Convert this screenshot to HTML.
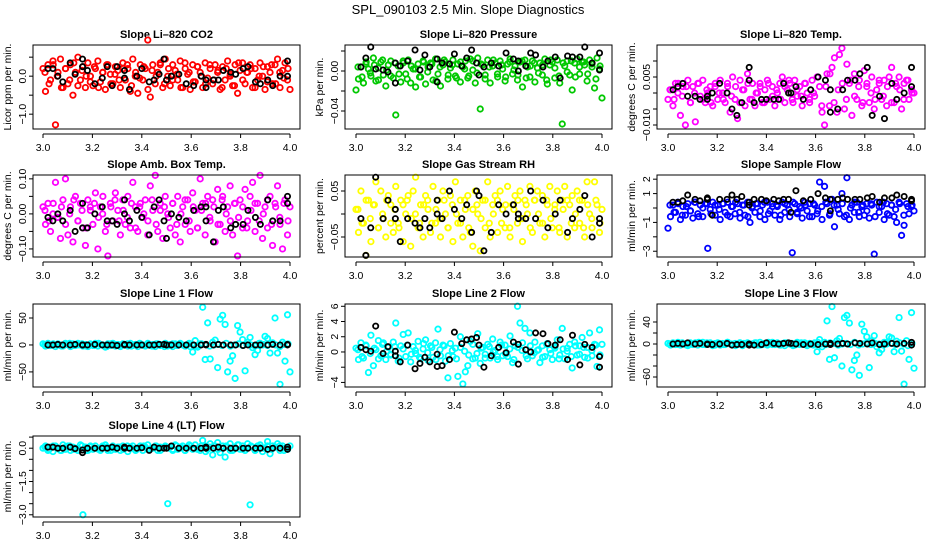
<!DOCTYPE html>
<html><head><meta charset="utf-8"><style>
html,body{margin:0;padding:0;background:#fff;}
svg{display:block;font-family:"Liberation Sans",sans-serif;}
</style></head><body>
<svg id="chart" width="936" height="540" viewBox="0 0 936 540">
<text x="468" y="14" text-anchor="middle" font-size="13">SPL_090103  2.5 Min. Slope Diagnostics</text>
</svg>
<script>
const xTickLabels = ["3.0","3.2","3.4","3.6","3.8","4.0"];
const xTickValues = [3.0,3.2,3.4,3.6,3.8,4.0];
const blackX = [3.02,3.04,3.06,3.08,3.11,3.13,3.16,3.16,3.18,3.21,3.24,3.26,3.28,3.30,3.33,3.33,3.35,3.38,3.40,3.43,3.45,3.47,3.49,3.50,3.52,3.55,3.58,3.61,3.64,3.66,3.66,3.69,3.71,3.73,3.76,3.78,3.81,3.83,3.86,3.88,3.91,3.93,3.96,3.99,3.99];

const co2Vals = [0.2,-0.4,0.3,-0.1,0.4,-1.28,0.1,0.45,-0.3,0.2,-0.2,0.3,-0.5,0.1,0.5,-0.1,0.25,-0.3,0.35,0.0,-0.25,0.2,0.4,-0.15,0.1,-0.35,0.3,0.05,-0.2,0.25,0.15,-0.3,0.35,-0.1,0.2,-0.4,0.45,0.0,-0.45,0.3,-0.1,0.2,0.95,-0.55,0.3,-0.2,0.1,0.35,-0.3,0.45,0.0,-0.25,0.3,0.15,-0.1,0.4,-0.3,0.2,0.05,-0.35,0.3,-0.15,0.25,0.1,-0.3,0.35,-0.05,0.2,-0.2,0.3,0.1,-0.35,0.25,-0.1,0.4,0.0,-0.25,0.3,-0.45,0.15,0.35,-0.2,0.1,0.3,-0.3,0.2,-0.1,0.35,0.0,-0.35,0.25,0.1,-0.2,0.3,0.45,-0.3,0.15,0.35,-0.1,-0.35];
const co2Band = [0.1,-0.2,0.3,0.0,-0.3,0.2,-0.1,0.35,-0.25,0.15,0.0,-0.15,0.25,-0.3,0.1,0.3,-0.2,0.05,-0.1,0.2,0.3,-0.25,0.1,-0.05,0.25,-0.35,0.15,0.0,0.3,-0.2,0.2,-0.1,0.05,-0.3,0.35,0.1,-0.15,0.25,0.0,-0.2,0.3,-0.1,0.15,-0.3,0.2,0.05,-0.25,0.35,-0.1,0.1,0.2,-0.3,0.0,0.25,-0.15,0.3,-0.2,0.1,-0.05,0.2];
const co2Black = [0.2,0.2,0.0,-0.15,0.35,0.05,0.45,0.25,0.15,-0.2,-0.05,0.25,-0.25,0.25,0.15,-0.05,-0.35,0.0,0.2,-0.15,-0.1,0.05,0.45,-0.1,0.0,0.05,-0.2,-0.25,0.0,-0.1,-0.3,-0.1,-0.1,0.15,0.1,0.05,0.2,0.25,-0.15,-0.2,-0.1,-0.25,0.0,0.0,0.4];

const presVals = [-0.019,-0.008,0.004,-0.012,0.007,0.002,-0.005,0.013,-0.010,0.003,0.009,-0.004,-0.015,0.006,0.010,-0.007,-0.044,0.005,-0.011,0.008,-0.003,0.011,-0.012,0.002,-0.016,0.007,-0.006,0.010,-0.013,0.004,0.008,-0.009,0.012,-0.003,-0.015,0.006,0.009,-0.008,0.003,0.011,-0.005,0.007,-0.011,0.004,0.010,-0.007,0.012,0.001,-0.012,0.013,-0.038,0.006,-0.004,0.011,-0.012,0.005,0.008,-0.006,0.010,0.002,-0.010,0.007,0.012,-0.003,0.005,-0.009,0.009,-0.016,0.011,0.004,-0.006,0.010,-0.011,0.003,0.008,-0.004,0.012,-0.013,0.006,0.009,-0.007,0.011,-0.012,-0.053,0.005,0.010,-0.004,-0.019,0.008,0.012,-0.003,0.009,0.006,-0.010,0.011,0.004,-0.017,0.013,0.002,-0.027];
const presBand = [0.004,-0.006,0.009,-0.002,0.006,-0.009,0.011,0.001,-0.005,0.008,-0.003,0.010,-0.008,0.005,0.002,-0.006,0.009,-0.001,0.007,-0.010,0.004,0.011,-0.004,0.006,-0.007,0.009,0.002,-0.005,0.010,-0.002,0.007,-0.008,0.004,0.011,-0.003,0.006,-0.006,0.009,0.001,-0.004,0.010,-0.007,0.005,0.008,-0.002,0.006,-0.009,0.011,0.003,-0.005,0.008,-0.001,0.010,-0.006,0.004,0.009,-0.003,0.007,-0.008,0.005];
const presBlack = [0.004,0.013,0.024,0.002,0.001,-0.001,0.008,-0.012,0.005,0.010,0.021,0.001,0.016,0.004,0.012,-0.011,0.008,0.007,0.017,0.005,0.013,0.021,0.008,-0.004,0.004,0.008,0.005,0.018,0.012,0.010,0.000,0.005,0.018,0.016,0.004,0.010,0.014,-0.007,0.015,0.014,0.014,0.024,0.008,0.018,0.001];

const ltVals = [-0.002,0.001,-0.004,0.003,0.000,-0.007,0.002,-0.010,0.004,-0.003,0.002,-0.009,0.003,-0.001,0.004,-0.003,0.000,0.002,-0.004,0.003,-0.002,0.004,0.000,-0.003,0.002,-0.006,0.005,-0.002,-0.008,0.004,0.001,-0.004,0.006,-0.002,0.003,-0.004,0.000,0.003,-0.003,0.001,0.004,-0.002,0.002,-0.004,0.000,0.003,0.005,-0.003,0.001,0.003,-0.002,0.004,-0.001,0.002,-0.004,0.003,0.000,-0.003,0.004,-0.001,0.005,0.002,-0.006,-0.010,0.006,-0.004,0.008,0.011,-0.006,0.012,0.014,-0.005,0.009,0.003,-0.007,0.006,-0.002,0.004,-0.004,0.007,0.002,-0.003,0.005,-0.005,0.001,0.003,-0.002,0.004,-0.004,0.005,0.008,-0.003,0.002,0.005,-0.005,0.003,0.004,-0.002,0.001,0.000];
const ltBand = [0.001,-0.002,0.003,-0.001,0.002,-0.003,0.000,0.003,-0.002,0.001,-0.003,0.002,0.000,-0.002,0.003,-0.001,0.002,-0.003,0.001,0.003,-0.002,0.000,0.002,-0.003,0.003,-0.001,0.001,-0.002,0.002,0.004,-0.003,0.001,-0.001,0.003,-0.002,0.000,0.005,-0.004,0.002,0.006,-0.003,0.001,0.003,-0.002,0.004,-0.001,0.002,-0.003,0.003,0.000,-0.002,0.004,-0.001,0.002,-0.003,0.003,0.001,-0.002,0.004,0.000];
const ltBlack = [0.001,0.002,0.003,-0.001,-0.001,-0.002,-0.002,-0.001,0.000,0.003,0.000,-0.005,-0.007,-0.003,0.008,0.004,-0.003,-0.002,-0.002,-0.002,-0.002,0.003,0.000,0.000,0.002,-0.002,0.001,0.005,0.004,0.001,-0.006,-0.005,0.001,0.004,0.004,0.006,0.008,-0.007,-0.001,-0.008,0.003,-0.002,0.000,0.002,0.008];

const ambVals = [0.02,-0.03,0.03,-0.05,0.00,0.09,-0.01,-0.07,0.04,0.10,-0.06,0.02,-0.08,0.05,-0.02,0.03,-0.04,-0.09,0.04,0.01,-0.03,0.06,-0.10,0.02,0.05,-0.05,-0.12,0.03,-0.02,0.06,0.01,-0.06,0.04,-0.03,0.05,-0.04,0.09,0.02,-0.05,0.03,-0.01,0.04,-0.06,0.08,0.01,0.11,-0.05,0.03,-0.07,0.05,0.00,-0.04,0.03,-0.06,0.05,-0.08,0.02,-0.03,0.04,-0.05,0.06,0.01,-0.04,0.10,0.03,-0.06,0.05,-0.02,0.04,-0.08,0.07,-0.03,0.05,-0.05,0.02,0.08,-0.06,0.03,-0.12,0.04,-0.04,0.07,-0.02,0.05,0.09,-0.05,0.03,0.11,-0.07,0.02,-0.04,0.05,-0.09,0.03,0.08,-0.03,-0.10,0.04,-0.06,0.02];
const ambBand = [0.01,-0.02,0.03,-0.01,0.02,-0.03,0.00,0.04,-0.02,0.01,-0.04,0.02,0.03,-0.01,0.00,-0.03,0.02,0.04,-0.02,0.01,-0.01,0.03,-0.04,0.02,0.00,-0.02,0.04,-0.03,0.01,0.02,-0.01,0.03,-0.03,0.00,0.04,-0.02,0.02,-0.04,0.01,0.03,-0.01,0.02,-0.03,0.04,0.00,-0.02,0.03,-0.01,0.02,-0.04,0.01,0.03,-0.02,0.00,0.04,-0.03,0.02,-0.01,0.03,-0.02];
const ambBlack = [-0.01,-0.02,0.00,-0.02,0.01,-0.05,0.03,-0.04,-0.04,0.00,0.02,-0.02,-0.02,-0.03,0.00,0.04,-0.02,0.01,-0.01,-0.06,0.02,0.04,-0.02,-0.07,0.00,-0.01,-0.02,0.01,0.02,-0.02,0.02,-0.08,0.01,0.02,-0.04,-0.03,-0.03,0.01,-0.01,-0.03,0.04,-0.02,-0.02,0.03,0.05];

const rhVals = [0.01,-0.04,0.05,-0.02,-0.09,0.03,-0.06,0.02,0.07,-0.03,0.05,-0.01,-0.05,0.04,0.02,-0.04,0.06,-0.02,0.03,-0.06,0.00,0.04,-0.07,0.05,0.08,-0.03,0.02,-0.05,0.04,0.01,-0.04,0.06,-0.02,0.03,-0.05,0.05,0.00,-0.03,0.04,-0.06,0.07,-0.02,0.03,-0.05,0.01,0.04,-0.04,-0.07,0.05,0.00,-0.08,0.03,-0.03,0.07,-0.05,0.02,0.04,-0.04,0.05,0.01,-0.03,0.06,-0.05,0.02,0.04,-0.02,0.05,-0.06,0.03,0.00,0.06,-0.04,0.03,0.05,-0.02,0.04,-0.05,0.02,0.06,-0.03,0.01,0.05,-0.04,0.03,0.06,-0.05,0.02,0.04,-0.03,0.05,-0.02,0.03,-0.05,0.07,0.00,-0.03,0.07,0.02,-0.04,0.01];
const rhBand = [0.01,-0.02,0.03,-0.01,0.02,-0.03,0.00,0.03,-0.02,0.01,-0.03,0.02,0.03,-0.01,0.00,-0.02,0.02,0.03,-0.02,0.01,-0.01,0.03,-0.03,0.02,0.00,-0.02,0.03,-0.03,0.01,0.02,-0.01,0.03,-0.02,0.00,0.03,-0.02,0.02,-0.03,0.01,0.03,-0.01,0.02,-0.03,0.03,0.00,-0.02,0.03,-0.01,0.02,-0.03,0.01,0.03,-0.02,0.00,0.03,-0.03,0.02,-0.01,0.03,-0.02];
const rhBlack = [-0.01,-0.09,-0.03,0.08,-0.01,0.03,0.01,-0.01,-0.06,-0.01,-0.02,-0.03,-0.01,-0.03,0.00,0.03,-0.01,0.05,0.01,-0.01,0.02,-0.04,0.05,0.04,-0.08,-0.04,0.02,0.00,0.02,0.00,-0.01,-0.01,0.05,-0.01,0.03,-0.03,0.00,0.03,-0.04,-0.01,0.01,0.04,-0.05,-0.02,-0.01];

const sfVals = [-1.4,-0.6,0.2,-0.3,0.4,-0.8,0.1,-0.5,0.3,-0.2,-0.7,0.4,-0.4,0.2,-0.6,0.3,-2.8,-0.1,0.4,-0.5,0.2,-0.8,0.3,-0.3,0.4,-0.6,0.1,-0.4,0.3,-0.7,0.2,-0.5,0.4,-1.0,0.1,-0.3,0.3,-0.6,0.2,-0.8,0.4,-0.2,0.3,-0.5,0.1,-0.8,0.4,-0.3,0.2,-0.6,-3.1,0.3,-0.4,0.1,-0.7,0.4,-0.2,0.3,-0.6,0.2,-0.4,1.8,-0.8,1.5,0.3,-0.5,0.6,-1.3,0.2,-0.4,1.0,-0.6,2.1,-0.8,0.2,-0.3,0.4,-0.6,0.1,-0.5,0.3,-0.7,0.2,-3.2,0.4,-0.3,0.1,-0.8,0.3,-0.5,0.2,-0.6,-1.0,0.4,-1.9,-1.2,0.3,-0.4,0.1,-0.2];
const sfBand = [0.2,-0.3,0.3,-0.5,0.1,-0.2,0.4,-0.6,0.0,0.3,-0.4,0.2,-0.1,0.3,-0.5,0.1,0.4,-0.3,0.2,-0.6,0.0,0.3,-0.2,0.4,-0.4,0.1,0.2,-0.5,0.3,-0.1,0.4,-0.3,0.0,0.2,-0.6,0.3,-0.2,0.1,0.4,-0.4,0.2,-0.1,0.3,-0.5,0.0,0.4,-0.3,0.2,-0.2,0.3,-0.6,0.1,0.4,-0.4,0.2,-0.1,0.3,-0.5,0.1,0.2];
const sfBlack = [0.4,0.4,0.5,0.9,0.6,0.5,0.6,0.7,-0.5,0.6,0.6,0.9,0.6,0.8,0.4,0.2,0.6,0.6,0.5,0.6,0.5,0.6,0.6,-0.3,1.2,0.5,0.6,1.0,0.7,0.6,-0.2,0.6,0.7,0.6,0.6,0.6,0.7,0.8,0.4,0.7,0.7,0.9,0.8,0.6,0.5];

const l1Vals = [2,-2,3,-1,1,-3,2,0,-2,3,1,-3,2,-1,3,0,-2,1,-3,2,-1,3,-2,1,0,-4,2,-1,3,-2,1,-3,2,0,-2,3,-1,1,-3,2,0,-2,3,-1,1,-3,2,-1,0,3,-2,1,-3,2,-1,3,0,-2,1,-3,-13,8,-4,2,70,-27,41,-26,5,9,-42,48,55,38,-50,-30,-20,-62,36,24,10,-48,5,14,-5,-18,-10,3,0,16,12,-15,4,50,-15,-73,5,-30,56,-50];
const l1Band = [1,-1,2,0,-2,1,3,-1,0,2,-2,1,-1,3,0,-3,2,1,-1,0,2,-2,1,3,-1,0,-2,2,1,-3,0,2,-1,1,-2,3,0,-1,2,1,-2,0,1,-1,3,-2,0,2,-1,1,0,-2,3,1,-1,2,0,-3,1,2];
const l1Black = [0,0,1,0,0,1,0,0,0,1,0,0,0,-1,1,0,0,0,0,0,0,1,1,0,0,0,0,0,0,1,0,0,1,0,0,0,-1,0,0,0,0,1,0,1,0];

const l2Vals = [0.5,-1.0,1.2,-0.8,0.9,-2.7,2.2,-1.8,0.3,1.5,-0.5,1.2,-1.0,0.6,-0.3,1.3,3.8,-1.2,0.8,2.3,-0.6,2.5,-1.3,0.7,-0.2,1.4,-0.9,0.4,1.6,-1.1,0.8,-0.7,1.2,3.0,-0.5,0.9,-1.2,-3.4,1.1,-0.6,0.5,-3.2,2.0,-4.2,-2.6,-1.8,1.4,-0.9,-0.8,2.4,-1.5,0.6,-0.3,1.0,-0.8,1.7,0.2,-1.0,1.3,-0.5,0.9,-0.6,2.1,-1.4,0.8,6.0,3.8,1.2,3.1,-0.9,2.5,-0.5,1.3,0.2,-1.4,0.8,-0.6,1.1,0.3,-1.0,0.7,1.6,-0.4,3.1,-0.9,0.5,1.0,-2.1,1.3,-0.4,0.8,1.9,-0.7,0.6,2.5,-0.5,1.0,-1.9,2.9,1.0];
const l2Band = [0.3,-0.6,0.8,-0.2,0.5,-0.9,1.0,0.1,-0.4,0.7,-0.8,0.4,0.9,-0.3,0.2,-0.7,1.1,-0.1,0.6,-1.0,0.3,0.8,-0.5,0.2,-0.9,0.6,0.1,-0.4,1.0,-0.2,0.5,-0.8,0.7,0.0,-0.6,0.9,-0.3,0.4,-1.0,0.6,0.2,-0.5,0.8,-0.1,0.3,-0.7,1.0,-0.2,0.5,-0.9,0.4,0.1,-0.6,0.8,-0.3,0.6,-0.8,0.2,0.9,-0.4];
const l2Black = [0.6,0.3,0.1,3.4,-0.2,0.7,-0.5,0.1,-1.3,0.9,-2.2,-1.5,-0.7,-1.3,-0.3,-1.9,-1.8,-1.0,2.6,1.1,1.6,1.7,1.9,0.9,-2.0,-0.5,0.6,-0.1,1.3,1.0,-1.6,0.3,0.0,2.5,2.4,1.1,0.9,1.6,-1.0,2.2,-1.7,1.0,0.6,-0.6,-2.0];

const l3Vals = [1,-2,2,-1,3,-2,1,0,-3,2,-1,2,-2,1,3,-1,0,2,-3,1,2,-2,1,-1,3,0,-2,1,-1,2,-3,1,2,-1,0,2,-2,3,-1,1,-2,0,3,-1,2,-2,1,-3,2,0,1,-2,3,-1,0,2,-3,1,-1,2,-14,8,-5,3,42,-28,68,-25,6,10,-40,48,52,38,-47,-30,-20,-57,36,23,13,-43,6,15,-5,-16,-10,3,0,13,11,-14,5,48,-13,-73,6,-28,57,-44];
const l3Band = [0,1,-1,2,-2,0,1,3,-1,2,0,-2,1,-1,3,0,-3,2,1,-1,0,2,-2,1,3,-1,0,-2,2,1,-3,0,2,-1,1,-2,3,0,-1,2,1,-2,0,1,-1,3,-2,0,2,-1,1,0,-2,3,1,-1,2,0,-3,1];
const l3Black = [0,1,0,2,0,1,-1,0,-1,0,1,-2,-1,-1,0,-2,-2,-1,2,1,0,1,2,1,0,-1,0,-1,0,1,-1,0,1,0,2,1,0,2,-1,0,1,0,1,3,-2];

const l4Vals = [0.0,0.1,-0.1,0.05,-0.15,0.1,0.0,-0.1,0.15,-0.05,0.1,-0.1,0.05,0.0,-0.1,0.15,-3.0,0.05,-0.1,0.1,-0.05,0.1,0.0,-0.1,0.05,0.15,-0.1,0.0,0.1,-0.05,0.05,-0.1,0.1,0.0,-0.15,0.05,0.1,-0.05,0.0,0.1,-0.1,0.05,0.15,-0.05,0.0,0.1,-0.1,0.05,0.0,0.1,-2.5,0.05,-0.1,0.15,-0.05,0.0,0.1,-0.1,0.05,0.1,-0.05,0.15,0.0,-0.1,0.35,0.1,-0.05,0.2,-0.3,0.1,0.25,-0.2,0.1,-0.4,0.05,0.2,-0.1,0.0,0.15,-0.05,0.1,-0.1,0.2,-2.55,0.05,-0.05,0.1,0.15,-0.15,0.0,0.3,-0.25,0.1,0.05,0.2,-0.1,0.1,0.0,-0.05,0.1];
const l4Band = [0.05,-0.05,0.1,0.0,-0.1,0.05,0.1,-0.05,0.0,0.1,-0.1,0.05,0.0,-0.05,0.1,0.05,-0.1,0.0,0.05,-0.05,0.1,0.0,-0.1,0.05,0.1,-0.05,0.0,0.1,-0.1,0.05,0.0,-0.05,0.1,0.05,-0.1,0.15,0.0,-0.05,0.1,-0.15,0.05,0.1,-0.05,0.0,0.1,-0.1,0.05,0.15,-0.05,0.0,0.1,-0.1,0.05,0.0,0.1,-0.05,0.05,0.1,-0.1,0.0];
const l4Black = [0.05,0.05,0.0,0.0,0.05,-0.02,-0.08,-0.2,0.0,0.0,0.0,0.0,0.05,0.0,0.05,0.0,0.0,0.0,0.02,-0.1,0.05,0.0,0.0,0.0,0.1,0.0,0.0,0.0,0.0,0.0,0.05,0.0,0.05,0.0,0.0,0.0,0.0,0.0,0.0,0.0,-0.05,0.0,0.0,0.05,-0.05];

const cols = [{bx0:33,bx1:300,x3:43,x4:290},{bx0:345,bx1:612,x3:356,x4:602},{bx0:657,bx1:925,x3:668,x4:914}];
const rows = [{y0:45,y1:129},{y0:175,y1:257},{y0:304,y1:387},{y0:436,y1:517}];

const panels = [
 {name:"co2",title:"Slope Li\u2013820 CO2",ylab:"Licor ppm per min.",col:0,row:0,ylim:[-1.39,0.82],ticks:[-1,-0.5,0,0.5],labels:{"-1":"\u22121.0","0":"0.0"},color:"#ff0000",vals:co2Vals,band:co2Band,black:co2Black},
 {name:"pressure",title:"Slope Li\u2013820 Pressure",ylab:"kPa per min.",col:1,row:0,ylim:[-0.058,0.026],ticks:[-0.04,-0.02,0,0.02],labels:{"-0.04":"\u22120.04","0":"0.00"},color:"#00c800",vals:presVals,band:presBand,black:presBlack},
 {name:"li-temp",title:"Slope Li\u2013820 Temp.",ylab:"degrees C per min.",col:2,row:0,ylim:[-0.01125,0.015],ticks:[-0.01,-0.005,0,0.005,0.01],labels:{"-0.01":"\u22120.010","0.005":"0.005"},color:"#ff00ff",vals:ltVals,band:ltBand,black:ltBlack},
 {name:"amb-temp",title:"Slope Amb. Box Temp.",ylab:"degrees C per min.",col:0,row:1,ylim:[-0.123,0.111],ticks:[-0.1,-0.05,0,0.05,0.1],labels:{"-0.1":"\u22120.10","0":"0.00","0.1":"0.10"},color:"#ff00ff",vals:ambVals,band:ambBand,black:ambBlack},
 {name:"rh",title:"Slope Gas Stream RH",ylab:"percent per min.",col:1,row:1,ylim:[-0.0935,0.0848],ticks:[-0.05,0,0.05],labels:{"-0.05":"\u22120.05","0.05":"0.05"},color:"#ffff00",vals:rhVals,band:rhBand,black:rhBlack},
 {name:"sample-flow",title:"Slope Sample Flow",ylab:"ml/min per min.",col:2,row:1,ylim:[-3.40,2.29],ticks:[-3,-2,-1,0,1,2],labels:{"-3":"\u22123","-1":"\u22121","1":"1","2":"2"},color:"#0000ff",vals:sfVals,band:sfBand,black:sfBlack},
 {name:"line1-flow",title:"Slope Line 1 Flow",ylab:"ml/min per min.",col:0,row:2,ylim:[-78,76],ticks:[-50,0,50],labels:{"-50":"\u221250","0":"0","50":"50"},color:"#00ffff",vals:l1Vals,band:l1Band,black:l1Black},
 {name:"line2-flow",title:"Slope Line 2 Flow",ylab:"ml/min per min.",col:1,row:2,ylim:[-4.6,6.3],ticks:[-4,-2,0,2,4,6],labels:{"-4":"\u22124","0":"0","2":"2","4":"4","6":"6"},color:"#00ffff",vals:l2Vals,band:l2Band,black:l2Black},
 {name:"line3-flow",title:"Slope Line 3 Flow",ylab:"ml/min per min.",col:2,row:2,ylim:[-78.2,72.7],ticks:[-60,-40,-20,0,20,40],labels:{"-60":"\u221260","0":"0","40":"40"},color:"#00ffff",vals:l3Vals,band:l3Band,black:l3Black},
 {name:"line4-flow",title:"Slope Line 4 (LT) Flow",ylab:"ml/min per min.",col:0,row:3,ylim:[-3.1,0.55],ticks:[-3,-2.5,-2,-1.5,-1,-0.5,0,0.5],labels:{"-3":"\u22123.0","-1.5":"\u22121.5","0":"0.0"},color:"#00ffff",vals:l4Vals,band:l4Band,black:l4Black}
];

const NS = "http://www.w3.org/2000/svg";
const svg = document.getElementById("chart");
function mk(tag, attrs, parent){const e=document.createElementNS(NS,tag);for(const k in attrs)e.setAttribute(k,attrs[k]);(parent||svg).appendChild(e);return e;}

panels.forEach(p=>{
  const c=cols[p.col], r=rows[p.row];
  const g=mk("g",{});
  
  
  const xs=v=>c.x3+(v-3)*(c.x4-c.x3);
  const ys=v=>r.y1-(v-p.ylim[0])/(p.ylim[1]-p.ylim[0])*(r.y1-r.y0);
  const cx0=(c.bx0+c.bx1)/2;
  const t=mk("text",{x:cx0,y:r.y0-7,"text-anchor":"middle","font-size":"11","font-weight":"bold"},g);
  t.textContent=p.title;
  
  
  const yl=mk("text",{x:0,y:0,"text-anchor":"middle","font-size":"10.5",transform:"translate("+(c.bx0-22)+","+((r.y0+r.y1)/2)+") rotate(-90)"},g);
  yl.textContent=p.ylab;
  
  
  const xa=mk("g",{stroke:"#000","stroke-width":"1"},g);
  
  
  mk("line",{x1:xs(xTickValues[0]),x2:xs(xTickValues[xTickValues.length-1]),y1:r.y1+5,y2:r.y1+5},xa);
  xTickValues.forEach((v,i)=>{
    mk("line",{x1:xs(v),x2:xs(v),y1:r.y1+5,y2:r.y1+9},xa);
    const tl=mk("text",{x:xs(v),y:r.y1+22,"text-anchor":"middle","font-size":"10.5",stroke:"none"},g);
    tl.textContent=xTickLabels[i];
    
    
  });
  const ya=mk("g",{stroke:"#000","stroke-width":"1"},g);
  
  
  p.ticks.forEach(v=>{
    mk("line",{x1:c.bx0,x2:c.bx0-4,y1:ys(v),y2:ys(v)},ya);
    const key=String(v);
    if(p.labels[key]!==undefined){
      const tl=mk("text",{x:0,y:0,"text-anchor":"middle","font-size":"10.5",stroke:"none",transform:"translate("+(c.bx0-7)+","+ys(v)+") rotate(-90)"},g);
      tl.textContent=p.labels[key];
      
      
    }
  });
  const cg=mk("g",{fill:"none",stroke:p.color,"stroke-width":"1.8"},g);
  
  
  const n=p.vals.length;
  p.vals.forEach((v,i)=>{
    const pt=mk("circle",{cx:xs(3+i/(n-1)),cy:ys(v),r:2.7},cg);
    
    
  });
  const m=p.band.length;
  p.band.forEach((v,i)=>{
    const pt=mk("circle",{cx:xs(3.008+i/(m-1)*0.984),cy:ys(v),r:2.7},cg);
    
    
  });
  const bg=mk("g",{fill:"none",stroke:"#000","stroke-width":"1.8"},g);
  
  
  p.black.forEach((v,i)=>{
    if(i>=blackX.length)return;
    const pt=mk("circle",{cx:xs(blackX[i]),cy:ys(v),r:2.6},bg);
    
    
  });
  const box=mk("rect",{x:c.bx0,y:r.y0,width:c.bx1-c.bx0,height:r.y1-r.y0,fill:"none",stroke:"#000","stroke-width":"1"},g);
  
  
});
</script>
</body></html>
